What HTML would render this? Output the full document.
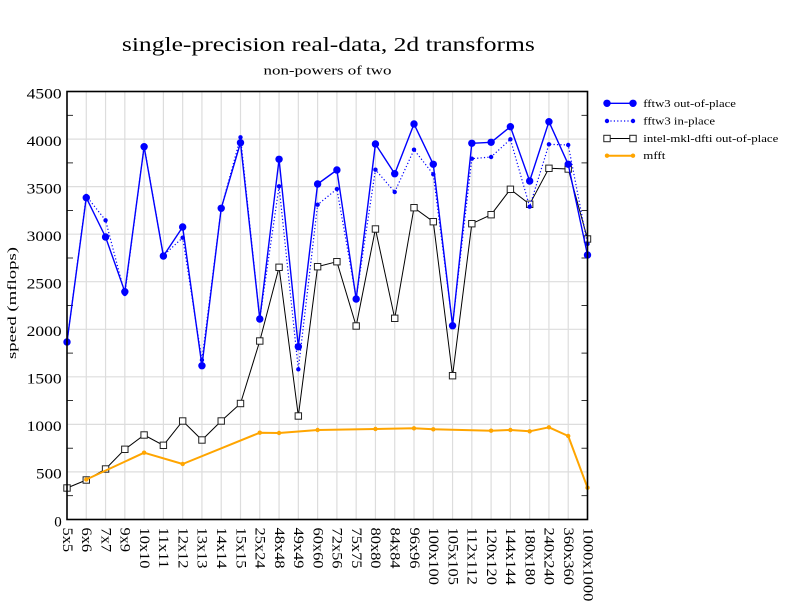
<!DOCTYPE html>
<html>
<head>
<meta charset="utf-8">
<style>
html,body{margin:0;padding:0;background:#fff;}
svg{display:block;font-family:"Liberation Serif","Times New Roman",Times,serif;}
</style>
</head>
<body>
<svg width="792" height="612" viewBox="0 0 792 612" xmlns="http://www.w3.org/2000/svg" font-family="Liberation Serif, Times New Roman, serif">
<rect x="0" y="0" width="792" height="612" fill="#fff"/>
<!-- titles -->
<text x="328.4" y="51" font-size="20.5" text-anchor="middle" textLength="413" lengthAdjust="spacingAndGlyphs">single-precision real-data, 2d transforms</text>
<text x="327.5" y="74.3" font-size="13" text-anchor="middle" textLength="128" lengthAdjust="spacingAndGlyphs">non-powers of two</text>
<text transform="translate(16,303) rotate(-90)" font-size="13" text-anchor="middle" textLength="112" lengthAdjust="spacingAndGlyphs">speed (mflops)</text>

<!-- grid -->
<g stroke="#dddddd" stroke-width="1.2">
<line x1="67" y1="471.9" x2="587.5" y2="471.9"/>
<line x1="67" y1="424.4" x2="587.5" y2="424.4"/>
<line x1="67" y1="376.8" x2="587.5" y2="376.8"/>
<line x1="67" y1="329.3" x2="587.5" y2="329.3"/>
<line x1="67" y1="281.7" x2="587.5" y2="281.7"/>
<line x1="67" y1="234.2" x2="587.5" y2="234.2"/>
<line x1="67" y1="186.6" x2="587.5" y2="186.6"/>
<line x1="67" y1="139.1" x2="587.5" y2="139.1"/>
<line x1="86.28" y1="91.5" x2="86.28" y2="519.5"/>
<line x1="105.56" y1="91.5" x2="105.56" y2="519.5"/>
<line x1="124.83" y1="91.5" x2="124.83" y2="519.5"/>
<line x1="144.11" y1="91.5" x2="144.11" y2="519.5"/>
<line x1="163.39" y1="91.5" x2="163.39" y2="519.5"/>
<line x1="182.67" y1="91.5" x2="182.67" y2="519.5"/>
<line x1="201.94" y1="91.5" x2="201.94" y2="519.5"/>
<line x1="221.22" y1="91.5" x2="221.22" y2="519.5"/>
<line x1="240.50" y1="91.5" x2="240.50" y2="519.5"/>
<line x1="259.78" y1="91.5" x2="259.78" y2="519.5"/>
<line x1="279.06" y1="91.5" x2="279.06" y2="519.5"/>
<line x1="298.33" y1="91.5" x2="298.33" y2="519.5"/>
<line x1="317.61" y1="91.5" x2="317.61" y2="519.5"/>
<line x1="336.89" y1="91.5" x2="336.89" y2="519.5"/>
<line x1="356.17" y1="91.5" x2="356.17" y2="519.5"/>
<line x1="375.44" y1="91.5" x2="375.44" y2="519.5"/>
<line x1="394.72" y1="91.5" x2="394.72" y2="519.5"/>
<line x1="414.00" y1="91.5" x2="414.00" y2="519.5"/>
<line x1="433.28" y1="91.5" x2="433.28" y2="519.5"/>
<line x1="452.56" y1="91.5" x2="452.56" y2="519.5"/>
<line x1="471.83" y1="91.5" x2="471.83" y2="519.5"/>
<line x1="491.11" y1="91.5" x2="491.11" y2="519.5"/>
<line x1="510.39" y1="91.5" x2="510.39" y2="519.5"/>
<line x1="529.67" y1="91.5" x2="529.67" y2="519.5"/>
<line x1="548.94" y1="91.5" x2="548.94" y2="519.5"/>
<line x1="568.22" y1="91.5" x2="568.22" y2="519.5"/>
</g>

<!-- ticks -->
<g stroke="#000" stroke-width="0.8">
<line x1="67" y1="495.7" x2="73" y2="495.7"/><line x1="581.5" y1="495.7" x2="587.5" y2="495.7"/>
<line x1="67" y1="448.2" x2="73" y2="448.2"/><line x1="581.5" y1="448.2" x2="587.5" y2="448.2"/>
<line x1="67" y1="400.6" x2="73" y2="400.6"/><line x1="581.5" y1="400.6" x2="587.5" y2="400.6"/>
<line x1="67" y1="353.1" x2="73" y2="353.1"/><line x1="581.5" y1="353.1" x2="587.5" y2="353.1"/>
<line x1="67" y1="305.5" x2="73" y2="305.5"/><line x1="581.5" y1="305.5" x2="587.5" y2="305.5"/>
<line x1="67" y1="258.0" x2="73" y2="258.0"/><line x1="581.5" y1="258.0" x2="587.5" y2="258.0"/>
<line x1="67" y1="210.4" x2="73" y2="210.4"/><line x1="581.5" y1="210.4" x2="587.5" y2="210.4"/>
<line x1="67" y1="162.9" x2="73" y2="162.9"/><line x1="581.5" y1="162.9" x2="587.5" y2="162.9"/>
<line x1="67" y1="115.3" x2="73" y2="115.3"/><line x1="581.5" y1="115.3" x2="587.5" y2="115.3"/>
</g>

<!-- y tick labels -->
<g font-size="15" text-anchor="end">
<text x="61.7" y="526.3">0</text>
<text x="61.7" y="478.7" textLength="25.7" lengthAdjust="spacingAndGlyphs">500</text>
<text x="61.7" y="431.2" textLength="35" lengthAdjust="spacingAndGlyphs">1000</text>
<text x="61.7" y="383.6" textLength="35" lengthAdjust="spacingAndGlyphs">1500</text>
<text x="61.7" y="336.1" textLength="35" lengthAdjust="spacingAndGlyphs">2000</text>
<text x="61.7" y="288.5" textLength="35" lengthAdjust="spacingAndGlyphs">2500</text>
<text x="61.7" y="241.0" textLength="35" lengthAdjust="spacingAndGlyphs">3000</text>
<text x="61.7" y="193.4" textLength="35" lengthAdjust="spacingAndGlyphs">3500</text>
<text x="61.7" y="145.9" textLength="35" lengthAdjust="spacingAndGlyphs">4000</text>
<text x="61.7" y="98.3" textLength="35" lengthAdjust="spacingAndGlyphs">4500</text>
</g>

<!-- x tick labels -->
<g font-size="15">
<text transform="translate(62.8,527.5) rotate(90)" textLength="24.6" lengthAdjust="spacingAndGlyphs">5x5</text>
<text transform="translate(82.1,527.5) rotate(90)" textLength="24.6" lengthAdjust="spacingAndGlyphs">6x6</text>
<text transform="translate(101.4,527.5) rotate(90)" textLength="24.6" lengthAdjust="spacingAndGlyphs">7x7</text>
<text transform="translate(120.6,527.5) rotate(90)" textLength="24.6" lengthAdjust="spacingAndGlyphs">9x9</text>
<text transform="translate(139.9,527.5) rotate(90)" textLength="41" lengthAdjust="spacingAndGlyphs">10x10</text>
<text transform="translate(159.2,527.5) rotate(90)" textLength="41" lengthAdjust="spacingAndGlyphs">11x11</text>
<text transform="translate(178.5,527.5) rotate(90)" textLength="41" lengthAdjust="spacingAndGlyphs">12x12</text>
<text transform="translate(197.7,527.5) rotate(90)" textLength="41" lengthAdjust="spacingAndGlyphs">13x13</text>
<text transform="translate(217.0,527.5) rotate(90)" textLength="41" lengthAdjust="spacingAndGlyphs">14x14</text>
<text transform="translate(236.3,527.5) rotate(90)" textLength="41" lengthAdjust="spacingAndGlyphs">15x15</text>
<text transform="translate(255.6,527.5) rotate(90)" textLength="41" lengthAdjust="spacingAndGlyphs">25x24</text>
<text transform="translate(274.9,527.5) rotate(90)" textLength="41" lengthAdjust="spacingAndGlyphs">48x48</text>
<text transform="translate(294.1,527.5) rotate(90)" textLength="41" lengthAdjust="spacingAndGlyphs">49x49</text>
<text transform="translate(313.4,527.5) rotate(90)" textLength="41" lengthAdjust="spacingAndGlyphs">60x60</text>
<text transform="translate(332.7,527.5) rotate(90)" textLength="41" lengthAdjust="spacingAndGlyphs">72x56</text>
<text transform="translate(352.0,527.5) rotate(90)" textLength="41" lengthAdjust="spacingAndGlyphs">75x75</text>
<text transform="translate(371.2,527.5) rotate(90)" textLength="41" lengthAdjust="spacingAndGlyphs">80x80</text>
<text transform="translate(390.5,527.5) rotate(90)" textLength="41" lengthAdjust="spacingAndGlyphs">84x84</text>
<text transform="translate(409.8,527.5) rotate(90)" textLength="41" lengthAdjust="spacingAndGlyphs">96x96</text>
<text transform="translate(429.1,527.5) rotate(90)" textLength="57.4" lengthAdjust="spacingAndGlyphs">100x100</text>
<text transform="translate(448.4,527.5) rotate(90)" textLength="57.4" lengthAdjust="spacingAndGlyphs">105x105</text>
<text transform="translate(467.6,527.5) rotate(90)" textLength="57.4" lengthAdjust="spacingAndGlyphs">112x112</text>
<text transform="translate(486.9,527.5) rotate(90)" textLength="57.4" lengthAdjust="spacingAndGlyphs">120x120</text>
<text transform="translate(506.2,527.5) rotate(90)" textLength="57.4" lengthAdjust="spacingAndGlyphs">144x144</text>
<text transform="translate(525.5,527.5) rotate(90)" textLength="57.4" lengthAdjust="spacingAndGlyphs">180x180</text>
<text transform="translate(544.7,527.5) rotate(90)" textLength="57.4" lengthAdjust="spacingAndGlyphs">240x240</text>
<text transform="translate(564.0,527.5) rotate(90)" textLength="57.4" lengthAdjust="spacingAndGlyphs">360x360</text>
<text transform="translate(583.3,527.5) rotate(90)" textLength="73.8" lengthAdjust="spacingAndGlyphs">1000x1000</text>
</g>

<!-- MKL series -->
<polyline fill="none" stroke="#000" stroke-width="1" points="67,488 86.28,480 105.56,469 124.83,449.3 144.11,435 163.39,445.3 182.67,421 201.94,440 221.22,421 240.5,403.5 259.78,341 279.06,267.3 298.33,416 317.61,266.7 336.89,261.7 356.17,326 375.44,229 394.72,318.3 414,207.7 433.28,221.7 452.56,375.7 471.83,223.7 491.11,214.7 510.39,189.3 529.67,204.3 548.94,168.3 568.22,169 587.5,239"/>
<g fill="#fff" stroke="#222" stroke-width="1">
<rect x="63.8" y="484.8" width="6.4" height="6.4"/>
<rect x="83.08" y="476.8" width="6.4" height="6.4"/>
<rect x="102.36" y="465.8" width="6.4" height="6.4"/>
<rect x="121.63" y="446.1" width="6.4" height="6.4"/>
<rect x="140.91" y="431.8" width="6.4" height="6.4"/>
<rect x="160.19" y="442.1" width="6.4" height="6.4"/>
<rect x="179.47" y="417.8" width="6.4" height="6.4"/>
<rect x="198.74" y="436.8" width="6.4" height="6.4"/>
<rect x="218.02" y="417.8" width="6.4" height="6.4"/>
<rect x="237.3" y="400.3" width="6.4" height="6.4"/>
<rect x="256.58" y="337.8" width="6.4" height="6.4"/>
<rect x="275.86" y="264.1" width="6.4" height="6.4"/>
<rect x="295.13" y="412.8" width="6.4" height="6.4"/>
<rect x="314.41" y="263.5" width="6.4" height="6.4"/>
<rect x="333.69" y="258.5" width="6.4" height="6.4"/>
<rect x="352.97" y="322.8" width="6.4" height="6.4"/>
<rect x="372.24" y="225.8" width="6.4" height="6.4"/>
<rect x="391.52" y="315.1" width="6.4" height="6.4"/>
<rect x="410.8" y="204.5" width="6.4" height="6.4"/>
<rect x="430.08" y="218.5" width="6.4" height="6.4"/>
<rect x="449.36" y="372.5" width="6.4" height="6.4"/>
<rect x="468.63" y="220.5" width="6.4" height="6.4"/>
<rect x="487.91" y="211.5" width="6.4" height="6.4"/>
<rect x="507.19" y="186.1" width="6.4" height="6.4"/>
<rect x="526.47" y="201.1" width="6.4" height="6.4"/>
<rect x="545.74" y="165.1" width="6.4" height="6.4"/>
<rect x="565.02" y="165.8" width="6.4" height="6.4"/>
<rect x="584.3" y="235.8" width="6.4" height="6.4"/>
</g>

<!-- mfft series -->
<polyline fill="none" stroke="#ffa500" stroke-width="2" stroke-linejoin="round" points="86.28,479.5 144.11,452.7 182.67,464 259.78,432.7 279.06,433 317.61,430 375.44,429 414,428.3 433.28,429.3 491.11,430.7 510.39,430 529.67,431.3 548.94,427.3 568.22,436 587.5,487.7"/>
<g fill="#ffa500">
<circle cx="86.28" cy="479.5" r="2.2"/><circle cx="144.11" cy="452.7" r="2.2"/><circle cx="182.67" cy="464" r="2.2"/>
<circle cx="259.78" cy="432.7" r="2.2"/><circle cx="279.06" cy="433" r="2.2"/><circle cx="317.61" cy="430" r="2.2"/>
<circle cx="375.44" cy="429" r="2.2"/><circle cx="414" cy="428.3" r="2.2"/><circle cx="433.28" cy="429.3" r="2.2"/>
<circle cx="491.11" cy="430.7" r="2.2"/><circle cx="510.39" cy="430" r="2.2"/><circle cx="529.67" cy="431.3" r="2.2"/>
<circle cx="548.94" cy="427.3" r="2.2"/><circle cx="568.22" cy="436" r="2.2"/><circle cx="587.5" cy="487.7" r="2.2"/>
</g>

<!-- fftw3 in-place -->
<polyline fill="none" stroke="#0000ff" stroke-width="1.2" stroke-dasharray="1.2,2.2" points="67,342 86.28,196 105.56,220.3 124.83,294 144.11,146 163.39,255.5 182.67,237.7 201.94,360 221.22,208.3 240.5,137.3 259.78,319 279.06,186.3 298.33,369.3 317.61,204.7 336.89,189 356.17,298 375.44,169.7 394.72,192 414,149.7 433.28,174.3 452.56,324.5 471.83,158.7 491.11,157 510.39,139.3 529.67,206.7 548.94,144.3 568.22,145 587.5,244"/>
<g fill="#0000ff">
<circle cx="67" cy="342" r="2.2"/><circle cx="86.28" cy="196" r="2.2"/><circle cx="105.56" cy="220.3" r="2.2"/>
<circle cx="124.83" cy="294" r="2.2"/><circle cx="144.11" cy="146" r="2.2"/><circle cx="163.39" cy="255.5" r="2.2"/>
<circle cx="182.67" cy="237.7" r="2.2"/><circle cx="201.94" cy="360" r="2.2"/><circle cx="221.22" cy="208.3" r="2.2"/>
<circle cx="240.5" cy="137.3" r="2.2"/><circle cx="259.78" cy="319" r="2.2"/><circle cx="279.06" cy="186.3" r="2.2"/>
<circle cx="298.33" cy="369.3" r="2.2"/><circle cx="317.61" cy="204.7" r="2.2"/><circle cx="336.89" cy="189" r="2.2"/>
<circle cx="356.17" cy="298" r="2.2"/><circle cx="375.44" cy="169.7" r="2.2"/><circle cx="394.72" cy="192" r="2.2"/>
<circle cx="414" cy="149.7" r="2.2"/><circle cx="433.28" cy="174.3" r="2.2"/><circle cx="452.56" cy="324.5" r="2.2"/>
<circle cx="471.83" cy="158.7" r="2.2"/><circle cx="491.11" cy="157" r="2.2"/><circle cx="510.39" cy="139.3" r="2.2"/>
<circle cx="529.67" cy="206.7" r="2.2"/><circle cx="548.94" cy="144.3" r="2.2"/><circle cx="568.22" cy="145" r="2.2"/>
<circle cx="587.5" cy="244" r="2.2"/>
</g>

<!-- fftw3 out-of-place -->
<polyline fill="none" stroke="#0000ff" stroke-width="1.4" stroke-linejoin="round" points="67,342 86.28,197.7 105.56,237 124.83,291.7 144.11,146.7 163.39,256 182.67,227 201.94,365.7 221.22,208.3 240.5,142.7 259.78,319 279.06,159.3 298.33,346.7 317.61,184 336.89,170 356.17,299 375.44,144 394.72,173.7 414,124 433.28,164.3 452.56,325.7 471.83,143.3 491.11,142.3 510.39,126.7 529.67,181 548.94,121.7 568.22,164.3 587.5,255"/>
<g fill="#0000ff">
<circle cx="67" cy="342" r="3.7"/><circle cx="86.28" cy="197.7" r="3.7"/><circle cx="105.56" cy="237" r="3.7"/>
<circle cx="124.83" cy="291.7" r="3.7"/><circle cx="144.11" cy="146.7" r="3.7"/><circle cx="163.39" cy="256" r="3.7"/>
<circle cx="182.67" cy="227" r="3.7"/><circle cx="201.94" cy="365.7" r="3.7"/><circle cx="221.22" cy="208.3" r="3.7"/>
<circle cx="240.5" cy="142.7" r="3.7"/><circle cx="259.78" cy="319" r="3.7"/><circle cx="279.06" cy="159.3" r="3.7"/>
<circle cx="298.33" cy="346.7" r="3.7"/><circle cx="317.61" cy="184" r="3.7"/><circle cx="336.89" cy="170" r="3.7"/>
<circle cx="356.17" cy="299" r="3.7"/><circle cx="375.44" cy="144" r="3.7"/><circle cx="394.72" cy="173.7" r="3.7"/>
<circle cx="414" cy="124" r="3.7"/><circle cx="433.28" cy="164.3" r="3.7"/><circle cx="452.56" cy="325.7" r="3.7"/>
<circle cx="471.83" cy="143.3" r="3.7"/><circle cx="491.11" cy="142.3" r="3.7"/><circle cx="510.39" cy="126.7" r="3.7"/>
<circle cx="529.67" cy="181" r="3.7"/><circle cx="548.94" cy="121.7" r="3.7"/><circle cx="568.22" cy="164.3" r="3.7"/>
<circle cx="587.5" cy="255" r="3.7"/>
</g>

<!-- frame -->
<rect x="67" y="91.5" width="520.5" height="428" fill="none" stroke="#000" stroke-width="1.6"/>

<!-- legend -->
<line x1="607" y1="103.3" x2="633" y2="103.3" stroke="#0000ff" stroke-width="1.4"/>
<circle cx="607" cy="103.3" r="3.7" fill="#0000ff"/><circle cx="633" cy="103.3" r="3.7" fill="#0000ff"/>
<line x1="607" y1="121" x2="633" y2="121" stroke="#0000ff" stroke-width="1.2" stroke-dasharray="1.2,2.2"/>
<circle cx="607" cy="121" r="2.2" fill="#0000ff"/><circle cx="633" cy="121" r="2.2" fill="#0000ff"/>
<line x1="607" y1="138.5" x2="633" y2="138.5" stroke="#000" stroke-width="1"/>
<rect x="603.8" y="135.3" width="6.4" height="6.4" fill="#fff" stroke="#222" stroke-width="1"/>
<rect x="629.8" y="135.3" width="6.4" height="6.4" fill="#fff" stroke="#222" stroke-width="1"/>
<line x1="607" y1="155.7" x2="633" y2="155.7" stroke="#ffa500" stroke-width="2"/>
<circle cx="607" cy="155.7" r="2.2" fill="#ffa500"/><circle cx="633" cy="155.7" r="2.2" fill="#ffa500"/>
<g font-size="10.5">
<text x="643.3" y="106.8" textLength="92.6" lengthAdjust="spacingAndGlyphs">fftw3 out-of-place</text>
<text x="643.3" y="124.5" textLength="71.7" lengthAdjust="spacingAndGlyphs">fftw3 in-place</text>
<text x="643.3" y="142" textLength="135" lengthAdjust="spacingAndGlyphs">intel-mkl-dfti out-of-place</text>
<text x="643.3" y="159.2" textLength="22" lengthAdjust="spacingAndGlyphs">mfft</text>
</g>
</svg>
</body>
</html>
